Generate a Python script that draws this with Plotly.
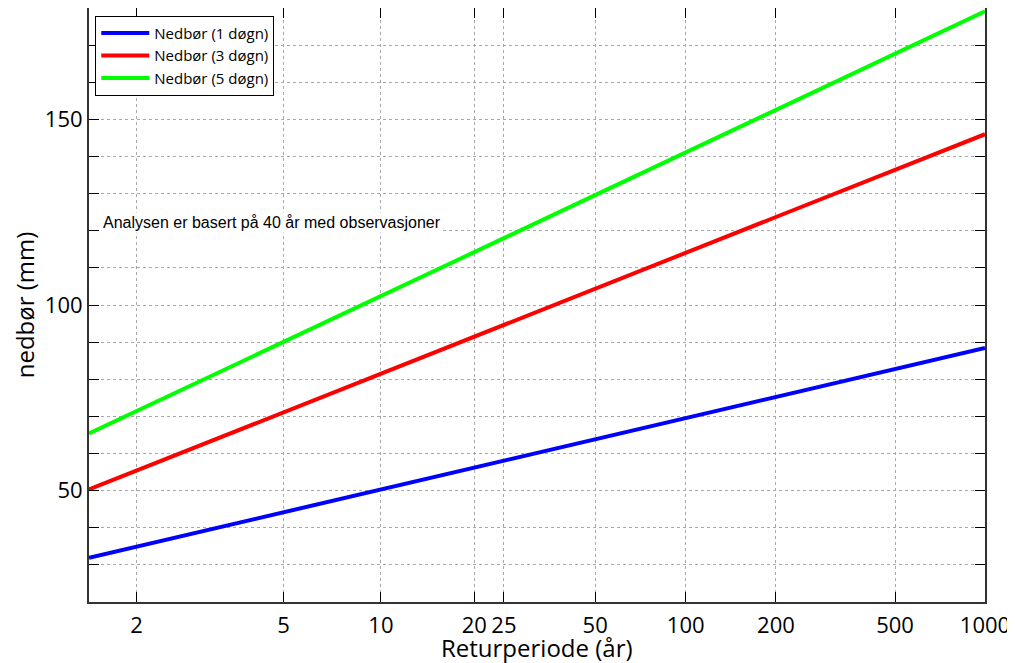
import numpy as np
import plotly.graph_objects as go

# Return periods (years) and precipitation values (mm)
return_period = [1.582, 2, 5, 10, 20, 25, 50, 100, 200, 500, 1000]
nedbor_1 = [31.9, 34.9, 44.2, 50.3, 56.2, 58.1, 63.8, 69.5, 75.2, 82.7, 88.4]
nedbor_3 = [50.3, 55.4, 71.1, 81.5, 91.5, 94.6, 104.4, 114.1, 123.7, 136.4, 146.0]
nedbor_5 = [65.4, 71.4, 90.1, 102.4, 114.3, 118.0, 129.6, 141.1, 152.6, 167.7, 179.1]

x_ticks = [2, 5, 10, 20, 25, 50, 100, 200, 500, 1000]
x_ticklabels = ["2", "5", "10", "20", "25", "50", "100", "200", "500", "1000"]
y_ticks = [50, 100, 150]


def gumbel(T):
    """Gumbel reduced variate scale for return period axis."""
    T = np.asarray(T, dtype=float)
    return -np.log(-np.log(1.0 - 1.0 / T))


xg = gumbel(return_period)

fig = go.Figure()
for name, vals, col in [
    ("Nedbør (1 døgn)", nedbor_1, "#0000ff"),
    ("Nedbør (3 døgn)", nedbor_3, "#ff0000"),
    ("Nedbør (5 døgn)", nedbor_5, "#00ff00"),
]:
    fig.add_trace(go.Scatter(x=xg, y=vals, mode="lines", name=name,
                             line=dict(color=col, width=4)))

grid_col = "#a8a8a8"
fig.update_layout(
    width=1007, height=655,
    margin=dict(l=81, r=30, t=0, b=61, autoexpand=False),
    plot_bgcolor="white", paper_bgcolor="white",
    font=dict(family="Open Sans", color="black"),
    legend=dict(x=0.007, y=0.987, xanchor="left", yanchor="top",
                bgcolor="white", bordercolor="black", borderwidth=1,
                font=dict(size=15, family="Open Sans"),
                tracegroupgap=0, itemwidth=48),
    showlegend=True,
)
fig.update_xaxes(
    range=[0, float(gumbel(1000))],
    tickmode="array", tickvals=gumbel(x_ticks).tolist(), ticktext=x_ticklabels,
    ticks="inside", ticklen=10, tickcolor="black",
    tickfont=dict(size=22), ticklabelstandoff=3,
    showline=True, linecolor="#333333", linewidth=2, mirror="ticks",
    showgrid=True, gridcolor=grid_col, griddash="dot", gridwidth=1,
    zeroline=False, automargin=False,
)
fig.update_yaxes(
    range=[20, 180],
    tickmode="array", tickvals=y_ticks,
    ticks="inside", ticklen=10, tickcolor="black",
    tickfont=dict(size=22),
    minor=dict(dtick=10, tick0=0, ticks="inside", ticklen=10, tickcolor="black",
               showgrid=True, gridcolor=grid_col, griddash="dot", gridwidth=1),
    showline=True, linecolor="#333333", linewidth=2, mirror="ticks",
    showgrid=True, gridcolor=grid_col, griddash="dot", gridwidth=1,
    zeroline=False, automargin=False,
    title=dict(text="nedbør (mm)", font=dict(size=24), standoff=12),
)
# x-axis title (placed as paper annotation to control its vertical position)
fig.add_annotation(
    x=0.5, y=-0.0765, xref="paper", yref="paper", xanchor="center", yanchor="middle",
    text="Returperiode (år)", showarrow=False,
    font=dict(family="Open Sans", size=24, color="black"),
)
fig.add_annotation(
    x=0.09, y=122.3, xref="x", yref="y", xanchor="left", yanchor="middle",
    text="Analysen er basert på 40 år med observasjoner",
    showarrow=False, bgcolor="white",
    font=dict(family="Liberation Sans", size=16, color="black"),
)
fig.write_html("out.html")
